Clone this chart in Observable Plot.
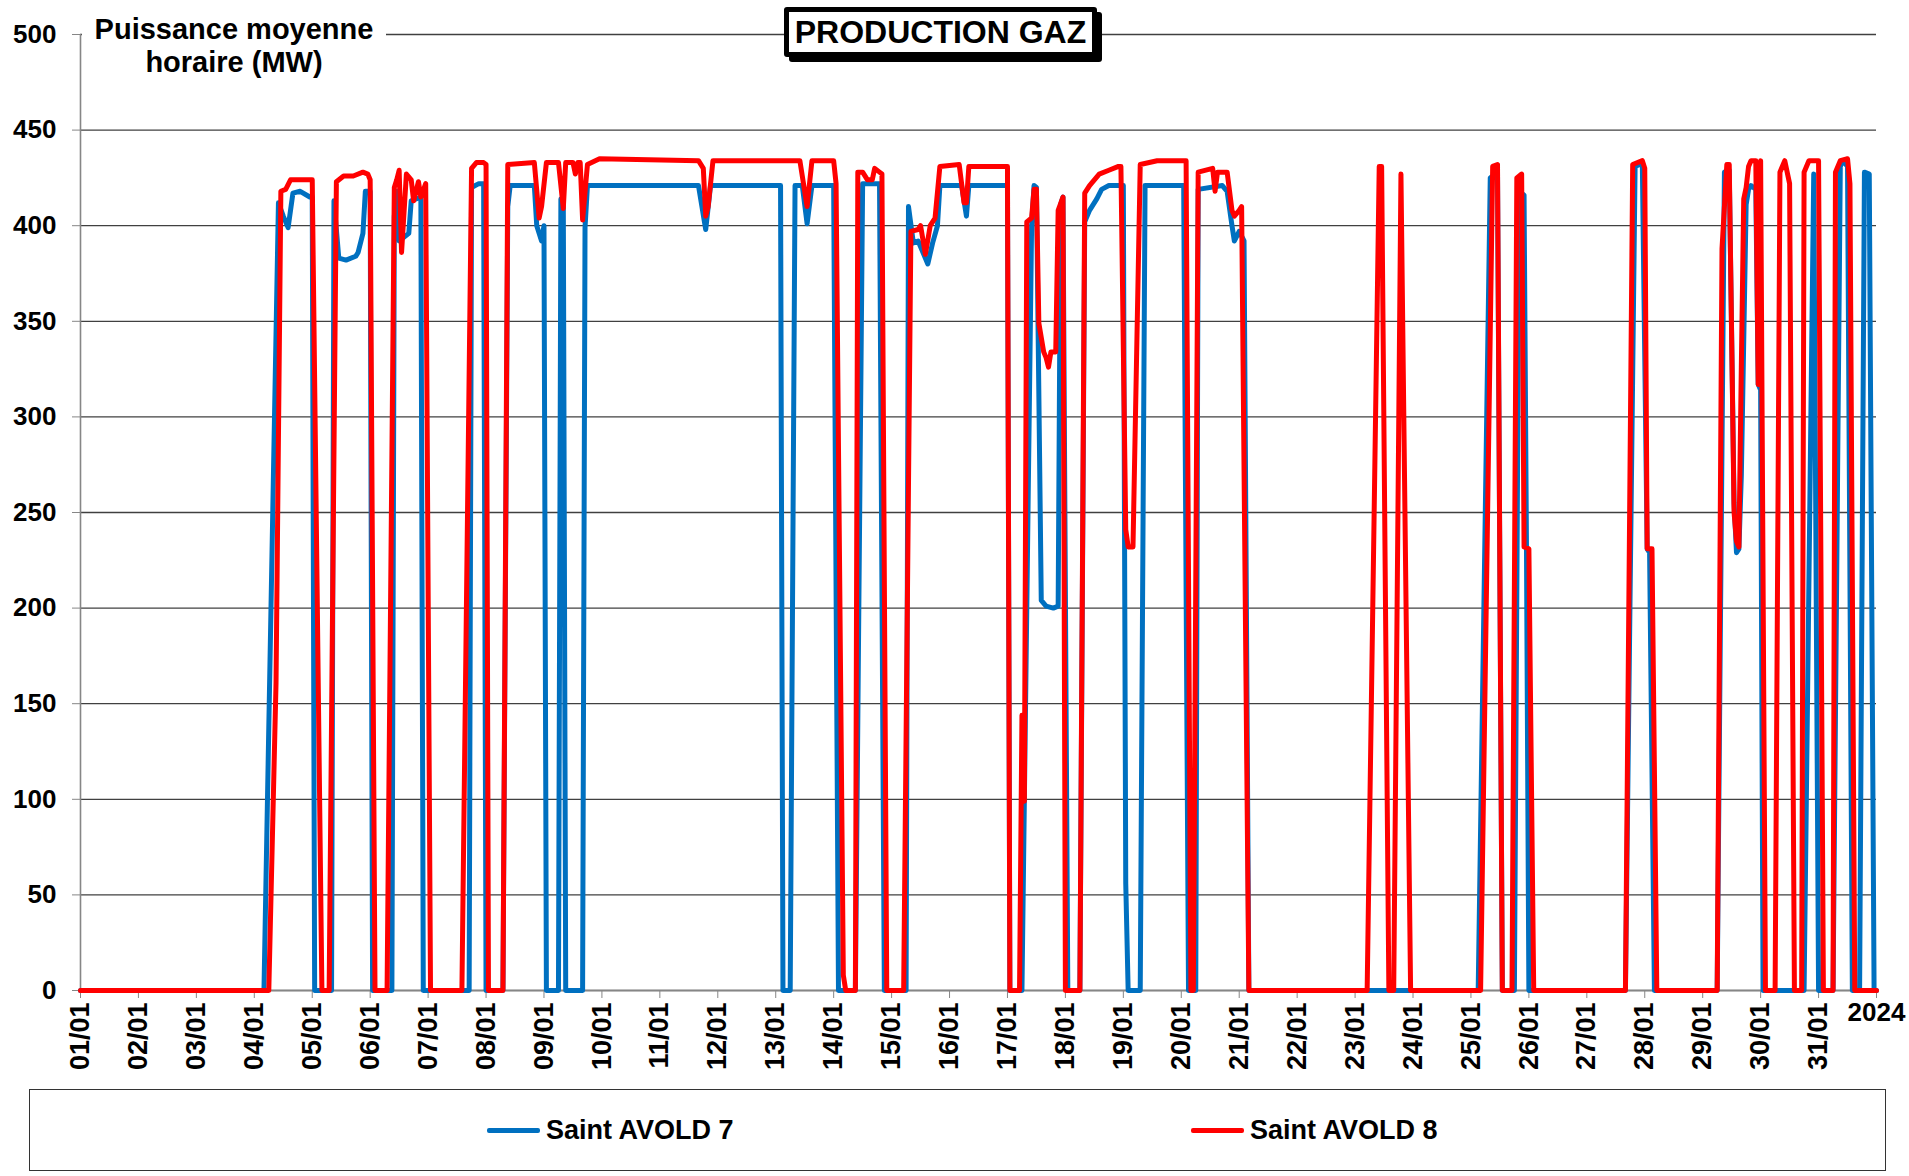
<!DOCTYPE html>
<html>
<head>
<meta charset="utf-8">
<script src="https://cdn.jsdelivr.net/npm/d3@7"></script>
<script src="https://cdn.jsdelivr.net/npm/@observablehq/plot@0.6"></script>
<style>
  html, body { margin: 0; padding: 0; background: #fff; }
  body { font-family: "Liberation Sans", Arial, sans-serif; }
  #wrap { position: relative; width: 1909px; height: 1176px; overflow: hidden; background: #fff; }
  #wrap svg { position: absolute; left: 0; top: 0; }
  .ytitle { position: absolute; left: 82px; top: 13px; width: 304px; text-align: center;
            font-weight: bold; font-size: 29px; line-height: 33px; background: #fff; color: #000; }
  .title { position: absolute; left: 784px; top: 7px; width: 313px; height: 50px; box-sizing: border-box;
           border: 5px solid #000; border-radius: 3px; box-shadow: 5px 5px 0 #000; background: #fff;
           text-align: center; font-weight: bold; font-size: 32px; line-height: 40px; color: #000; }
  .legend { position: absolute; left: 29px; top: 1089px; width: 1857px; height: 82px; box-sizing: border-box;
            border: 1.5px solid #333; background: #fff; }
  .lg-line { position: absolute; height: 5px; border-radius: 2px; }
  .lg-text { position: absolute; font-weight: bold; font-size: 27px; line-height: 32px; color: #000; white-space: nowrap; }
</style>
</head>
<body>
<div id="wrap"></div>
<script>
// ---- Data (hours since 01/01/2024 00:00, mean hourly power in MW) ----
const seriesNames = ["Saint AVOLD 7", "Saint AVOLD 8"];
const seriesColors = ["#0070C0", "#FF0000"];
const chartTitle = "PRODUCTION GAZ";
const yTitle = ["Puissance moyenne", "horaire (MW)"];
const endLabel = "2024";
const yTicks = [0, 50, 100, 150, 200, 250, 300, 350, 400, 450, 500];

const avold7 = [
  [0,0],[76,0],[82,412],[84,405],[86,399],[88,417],[91,418],[95,415],[96,415],[97,0],
  [104,0],[105,413],[107,383],[110,382],[114,384],[115,386],[117,396],[118,418],[120,418],[121,0],
  [129,0],[130,405],[131,418],[132,392],[136,396],[137,413],[141,415],[142,0],
  [161,0],[162,420],[165,422],[167,422],[168,0],
  [175,0],[177,410],[178,421],[188,421],[189,400],[191,392],[192,400],[193,0],
  [198,0],[199,414],[200,414],[201,0],
  [208,0],[209,399],[210,421],[256,421],[259,398],[261,421],[290,421],[291,0],
  [294,0],[296,421],[299,421],[301,401],[303,421],[312,421],[314,0],
  [321,0],[324,422],[331,422],[333,0],
  [342,0],[343,410],[345,391],[347,392],[348,389],[351,380],[353,391],[355,400],[356,421],[365,421],[367,405],[368,421],[384,421],[385,0],
  [390,0],[394,400],[395,421],[396,420],[398,204],[400,201],[403,200],[405,201],[406,411],[407,415],[409,0],
  [414,0],[416,402],[418,408],[421,414],[423,419],[426,421],[432,421],[433,56],[434,0],
  [439,0],[441,421],[457,421],[459,0],
  [462,0],[463,419],[473,421],[475,418],[477,400],[478,392],[480,397],[482,392],[484,0],
  [579,0],[584,425],[587,428],[589,0],
  [594,0],[596,418],[598,416],[599,232],[600,0],
  [640,0],[644,431],[646,432],[647,432],[649,231],[650,229],[652,0],
  [678,0],[681,428],[683,429],[685,255],[686,229],[687,231],[688,269],[690,411],[691,419],[692,421],[694,419],[695,317],[696,314],[697,0],
  [714,0],[718,427],[720,0],
  [726,0],[729,431],[730,434],[732,431],[734,0],
  [737,0],[739,428],[741,427],[743,0],[744,0]
];

const avold8 = [
  [0,0],[78,0],[81,161],[83,418],[85,419],[87,424],[96,424],[100,0],
  [103,0],[106,423],[109,426],[113,426],[117,428],[119,427],[120,424],[122,0],
  [127,0],[130,420],[131,424],[132,429],[133,386],[135,427],[137,424],[138,413],[140,423],[141,415],[143,422],[145,0],
  [158,0],[162,430],[164,433],[167,433],[168,432],[169,0],
  [175,0],[177,432],[188,433],[190,404],[191,410],[193,433],[198,433],[200,409],[201,433],[204,433],[205,427],[206,433],[207,433],[208,403],[210,432],[215,435],
  [256,434],[258,430],[259,405],[260,410],[262,434],[298,434],[301,410],[303,434],[312,434],[313,422],[316,8],[317,0],
  [321,0],[322,428],[324,428],[326,424],[328,424],[329,430],[331,428],[332,427],[334,0],
  [341,0],[344,397],[347,398],[348,400],[350,385],[352,400],[354,404],[356,431],[364,432],[366,412],[367,412],[368,431],[384,431],[385,0],
  [389,0],[390,144],[391,99],[392,402],[394,404],[395,419],[396,419],[397,349],[399,334],[400,331],[401,326],[402,334],[404,334],[405,408],[407,415],[408,0],
  [414,0],[416,417],[418,421],[422,427],[426,429],[430,431],[431,431],[433,241],[434,232],[436,232],[439,432],[446,434],[458,434],[460,0],
  [461,0],[463,428],[469,430],[470,418],[471,428],[475,428],[477,408],[478,405],[480,408],[481,410],[484,0],
  [533,0],[538,431],[539,431],[542,0],[544,0],[547,427],[551,0],
  [580,0],[585,431],[587,432],[589,0],[593,0],[595,425],[597,427],[598,232],[600,231],[602,0],
  [640,0],[643,432],[647,434],[648,430],[649,231],[651,231],[653,0],
  [678,0],[680,388],[682,432],[683,432],[685,250],[686,235],[687,232],[688,326],[689,414],[690,420],[691,431],[692,434],[694,434],[695,317],[696,434],[698,0],
  [702,0],[704,428],[706,434],[708,422],[710,0],
  [713,0],[714,428],[716,434],[720,434],[722,0],
  [726,0],[727,428],[729,434],[732,435],[733,422],[735,0],[744,0]
];

// ---- Build ----
const start = new Date(Date.UTC(2024, 0, 1));
const end = new Date(Date.UTC(2024, 1, 1));
const toRows = (pairs) => pairs.map(([h, v]) => ({ date: new Date(start.getTime() + h * 3600e3), value: v }));
const rows7 = toRows(avold7);
const rows8 = toRows(avold8);
const xTicks = d3.utcDay.range(start, d3.utcDay.offset(end, 1));
const fmt = d3.utcFormat("%d/%m");

const FONT = "'Liberation Sans', Arial, sans-serif";
const AXIS = "#868686";

const chart = Plot.plot({
  width: 1909,
  height: 1085,
  marginLeft: 80,
  marginRight: 33,
  marginTop: 34,
  marginBottom: 95,
  style: { fontFamily: FONT, background: "transparent", overflow: "visible", color: "#000" },
  x: { type: "utc", domain: [start, end] },
  y: { domain: [0, 500] },
  marks: [
    Plot.gridY(yTicks, { stroke: "#404040", strokeOpacity: 1, strokeWidth: 1.3 }),
    Plot.ruleX([start], { stroke: AXIS, strokeWidth: 1.6 }),
    Plot.ruleY([0], { stroke: AXIS, strokeWidth: 1.6 }),
    Plot.axisY(yTicks, {
      tickSize: 8, tickPadding: 16, fontSize: 26, fontWeight: "bold",
      stroke: AXIS, fill: "#000", label: null, tickFormat: d => String(d)
    }),
    Plot.axisX(xTicks, {
      tickSize: 8, tickPadding: 4, tickRotate: -90, fontSize: 27, fontWeight: "bold",
      stroke: AXIS, fill: "#000", label: null,
      tickFormat: d => (+d >= +end ? "" : fmt(d))
    }),
    Plot.text([end], {
      x: d => d, frameAnchor: "bottom", lineAnchor: "middle", dy: 22, text: () => endLabel,
      fontSize: 26, fontWeight: "bold", fill: "#000"
    }),
    Plot.line(rows7, { x: "date", y: "value", stroke: seriesColors[0], strokeWidth: 5, strokeLinejoin: "round", strokeLinecap: "round" }),
    Plot.line(rows8, { x: "date", y: "value", stroke: seriesColors[1], strokeWidth: 5, strokeLinejoin: "round", strokeLinecap: "round" })
  ]
});

const wrap = document.getElementById("wrap");
wrap.appendChild(chart);

// y-axis title
const yt = document.createElement("div");
yt.className = "ytitle";
yt.innerHTML = yTitle.join("<br>");
wrap.appendChild(yt);

// chart title
const tt = document.createElement("div");
tt.className = "title";
tt.textContent = chartTitle;
wrap.appendChild(tt);

// legend
const lg = document.createElement("div");
lg.className = "legend";
wrap.appendChild(lg);
const legendPos = [{ line: 487, text: 546 }, { line: 1191, text: 1250 }];
seriesNames.forEach((name, i) => {
  const l = document.createElement("div");
  l.className = "lg-line";
  l.style.left = legendPos[i].line + "px";
  l.style.top = "1128px";
  l.style.width = "53px";
  l.style.background = seriesColors[i];
  wrap.appendChild(l);
  const t = document.createElement("div");
  t.className = "lg-text";
  t.style.left = legendPos[i].text + "px";
  t.style.top = "1114px";
  t.textContent = name;
  wrap.appendChild(t);
});
</script>
</body>
</html>
